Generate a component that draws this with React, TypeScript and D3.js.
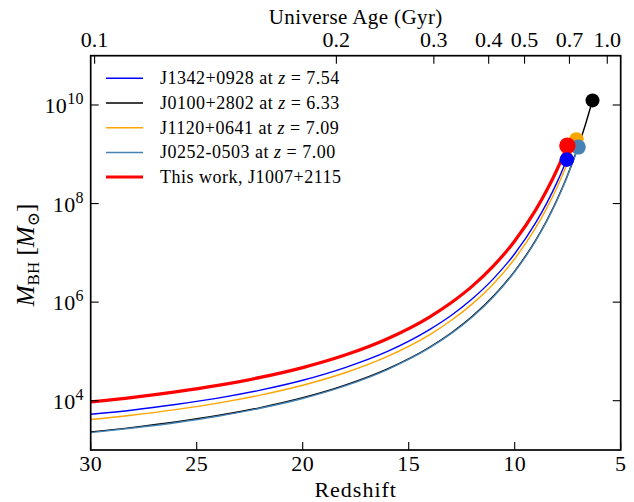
import React from "react";
import * as d3 from "d3";

const W = 634;
const H = 502;
const PL = 90.7, PR = 620.7, PT = 55.7, PB = 450;

const redshiftTicks = [30, 25, 20, 15, 10, 5];
const massTicks = [1e4, 1e6, 1e8, 1e10];
const massTickExp = ["4", "6", "8", "10"];
const ageTicks = [0.1, 0.2, 0.3, 0.4, 0.5, 0.7, 1.0];
const ageTickLabels = ["0.1", "0.2", "0.3", "0.4", "0.5", "0.7", "1.0"];

// cosmology used only to place the top (age) axis ticks
const H0 = 69, Om = 0.305, OL = 0.695;

const gridZ = [30, 28, 26, 24, 22, 20, 18, 16, 14, 13, 12, 11, 10, 9, 8.5, 8];

const blueZ = [...gridZ, 7.54];
const blueM = [5.3e3, 6.5e3, 8.4e3, 1.13e4, 1.64e4, 2.6e4, 4.7e4, 1.0e5, 2.8e5, 5.35e5, 1.17e6, 3.0e6, 9.6e6, 4.16e7, 1.0e8, 2.72e8, 7.8e8];

const blackZ = [...gridZ, 7.54, 7.0, 6.7, 6.33];
const blackM = [2.33e3, 2.88e3, 3.7e3, 5.0e3, 7.26e3, 1.15e4, 2.07e4, 4.43e4, 1.23e5, 2.37e5, 5.16e5, 1.33e6, 4.27e6, 1.84e7, 4.43e7, 1.21e8, 3.45e8, 1.45e9, 3.57e9, 1.24e10];

const orangeZ = [...gridZ, 7.54, 7.09];
const orangeM = [4.16e3, 5.14e3, 6.61e3, 8.95e3, 1.3e4, 2.06e4, 3.69e4, 7.91e4, 2.2e5, 4.23e5, 9.23e5, 2.37e6, 7.6e6, 3.29e7, 7.91e7, 2.15e8, 6.17e8, 2.0e9];

const steelZ = [...gridZ, 7.54, 7.0];
const steelM = [2.25e3, 2.79e3, 3.58e3, 4.85e3, 7.03e3, 1.11e4, 2.0e4, 4.29e4, 1.19e5, 2.29e5, 5.0e5, 1.29e6, 4.13e6, 1.78e7, 4.29e7, 1.17e8, 3.34e8, 1.4e9];

const redZ = [...gridZ, 7.515];
const redM = [9.5e3, 1.17e4, 1.51e4, 2.05e4, 2.97e4, 4.7e4, 8.43e4, 1.81e5, 5.04e5, 9.7e5, 2.11e6, 5.43e6, 1.74e7, 7.52e7, 1.81e8, 4.92e8, 1.5e9];

const seriesNames = ["J1342+0928", "J0100+2802", "J1120+0641", "J0252-0503", "This work, J1007+2115"];
const seriesZLabel = ["7.54", "6.33", "7.09", "7.00", ""];
const seriesColors = ["#0000ff", "#000000", "#ffa500", "#4682b4", "#ff0000"];
const seriesWidths = [1.4, 1.4, 1.4, 1.4, 3.2];
const seriesZ = [blueZ, blackZ, orangeZ, steelZ, redZ];
const seriesM = [blueM, blackM, orangeM, steelM, redM];
const dotOrder = [1, 2, 3, 4, 0];
const dotR = [7.3, 7.0, 7.3, 7.5, 8.2];

const FONT = "'Liberation Serif', 'DejaVu Serif', serif";

function ageToRedshift(tGyr: number): number {
  const hubbleTime = 977.8 / H0; // Gyr
  const A = (2 / (3 * Math.sqrt(OL))) * hubbleTime;
  const s = Math.sinh(tGyr / A) / Math.sqrt(OL / Om);
  return Math.pow(s, -2 / 3) - 1;
}

export default function App() {
  const x = d3.scaleLinear().domain([30, 5]).range([PL, PR]);
  const y = d3.scaleLog().domain([1e3, 1e11]).range([PB, PT]);
  const line = d3
    .line<[number, number]>()
    .x((d) => x(d[0]))
    .y((d) => y(d[1]))
    .curve(d3.curveMonotoneX);

  const tick = 8;

  return (
    <svg
      width={W}
      height={H}
      style={{ position: "absolute", left: 0, top: 0, background: "#fff" }}
      fontFamily={FONT}
    >
      <rect x={0} y={0} width={W} height={H} fill="#fff" />
      {seriesZ.map((zs, i) => (
        <path
          key={"l" + i}
          d={line(zs.map((z, j) => [z, seriesM[i][j]] as [number, number])) || ""}
          fill="none"
          stroke={seriesColors[i]}
          strokeWidth={seriesWidths[i]}
        />
      ))}
      {dotOrder.map((i) => {
        const zs = seriesZ[i];
        const ms = seriesM[i];
        return (
          <circle
            key={"d" + i}
            cx={x(zs[zs.length - 1])}
            cy={y(ms[ms.length - 1])}
            r={dotR[i]}
            fill={seriesColors[i]}
          />
        );
      })}

      <rect x={PL} y={PT} width={PR - PL} height={PB - PT} fill="none" stroke="#000" strokeWidth={1.7} />

      {redshiftTicks.map((t) => (
        <g key={"xb" + t}>
          <line x1={x(t)} x2={x(t)} y1={PB} y2={PB - tick} stroke="#000" strokeWidth={1.1} />
          <text x={x(t)} y={471} fontSize={22} textAnchor="middle" letterSpacing={0.4}>
            {t}
          </text>
        </g>
      ))}
      {ageTicks.map((a, i) => {
        const px = x(ageToRedshift(a));
        return (
          <g key={"xt" + a}>
            <line x1={px} x2={px} y1={PT} y2={PT + tick} stroke="#000" strokeWidth={1.1} />
            <text x={px} y={47} fontSize={22} textAnchor="middle">
              {ageTickLabels[i]}
            </text>
          </g>
        );
      })}
      {massTicks.map((m, i) => (
        <g key={"y" + m}>
          <line x1={PL} x2={PL + tick} y1={y(m)} y2={y(m)} stroke="#000" strokeWidth={1.1} />
          <line x1={PR} x2={PR - tick} y1={y(m)} y2={y(m)} stroke="#000" strokeWidth={1.1} />
          <text x={84} y={y(m) + 8} fontSize={22} textAnchor="end" letterSpacing={0.4}>
            10
            <tspan fontSize={16} dy={-9}>
              {massTickExp[i]}
            </tspan>
          </text>
        </g>
      ))}

      <text x={355.7} y={497} fontSize={22} textAnchor="middle" letterSpacing={1}>
        Redshift
      </text>
      <text x={355.7} y={24} fontSize={21} textAnchor="middle" letterSpacing={0.4}>
        Universe Age (Gyr)
      </text>
      <text transform="translate(34,255) rotate(-90)" fontSize={25} textAnchor="middle">
        <tspan fontStyle="italic">M</tspan>
        <tspan fontSize={17} dy={5}>BH</tspan>
        <tspan dy={-5}>{"\u00a0["}</tspan>
        <tspan fontStyle="italic">M</tspan>
        <tspan fontSize={17} dy={5}>⊙</tspan>
        <tspan dy={-5}>]</tspan>
      </text>

      {seriesNames.map((n, i) => {
        const ly = 78.3 + i * 24.7;
        return (
          <g key={"lg" + i}>
            <line x1={106} x2={143} y1={ly} y2={ly} stroke={seriesColors[i]} strokeWidth={seriesWidths[i] === 1.4 ? 1.5 : 3} />
            <text x={160} y={ly + 6} fontSize={18} letterSpacing={0.5}>
              {seriesZLabel[i] ? (
                <>
                  {n} at <tspan fontStyle="italic">z</tspan>{"\u00a0=\u00a0"}{seriesZLabel[i]}
                </>
              ) : (
                n
              )}
            </text>
          </g>
        );
      })}
    </svg>
  );
}
